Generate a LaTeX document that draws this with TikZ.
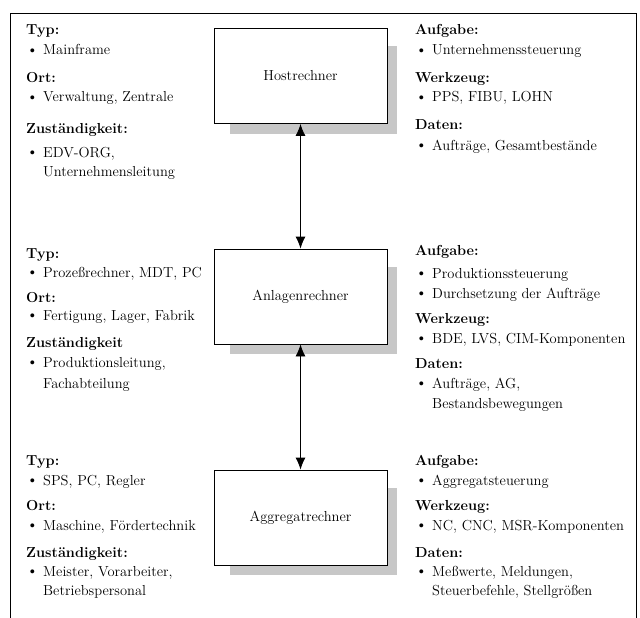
\documentclass[tikz,border=0pt]{standalone}
\usetikzlibrary{arrows.meta,backgrounds}
\tikzset{
  hdr/.style={anchor=base west, inner sep=0pt, font=\fontsize{14.5}{16}\selectfont\bfseries},
  itm/.style={anchor=base west, inner sep=0pt, font=\fontsize{14.5}{16}\selectfont},
  bul/.style={anchor=base west, inner sep=0pt, yshift=-0.7pt, font=\fontsize{17.5}{18}\selectfont},
  rbox/.style={draw, line width=0.9pt, fill=white, minimum width=173pt, minimum height=95pt, inner sep=0pt, font=\fontsize{14.5}{16}\selectfont},
  shad/.style={fill=black!22},
  link/.style={line width=0.9pt, {Latex[length=12pt,width=10pt]}-{Latex[length=12pt,width=10pt]}},
  frameline/.style={line width=0.9pt}
}
\newcommand\Hd[4]{\node[hdr] (#1) at (#2,#3) {#4};}
\newcommand\It[4]{\node[bul] (#1b) at (#2,#3) {\textbullet}; \node[itm] (#1) at (#2+17,#3) {#4};}
\newcommand\Ct[4]{\node[itm] (#1) at (#2+17,#3) {#4};}
\begin{document}
\begin{tikzpicture}[x=1pt,y=-1pt]
\useasboundingbox (0,0) rectangle (640,618);
\draw[frameline] (10,618) -- (10,13) -- (636,13) -- (636,618);

% boxes
\node[rbox] (host) at (300.5,76) {Hostrechner};
\node[rbox] (anl) at (300.5,296.5) {Anlagenrechner};
\node[rbox] (agg) at (300.5,517.5) {Aggregatrechner};
\begin{scope}[on background layer]
  \foreach \b in {host,anl,agg}{
    \fill[shad] ([xshift=16pt,yshift=-18pt]\b.north west) rectangle ([xshift=10pt,yshift=-10pt]\b.south east);
  }
\end{scope}
\draw[link] (host.south) -- (anl.north);
\draw[link] (anl.south) -- (agg.north);

% left block 1
\Hd{la1}{26}{35}{Typ:}
\It{la2}{26}{55}{Mainframe}
\Hd{la3}{26}{82}{Ort:}
\It{la4}{26}{102}{Verwaltung, Zentrale}
\Hd{la5}{26}{133}{Zuständigkeit:}
\It{la6}{26}{157}{EDV-ORG,}
\Ct{la7}{26}{176}{Unternehmensleitung}

% right block 1
\Hd{ra1}{415}{35}{Aufgabe:}
\It{ra2}{415}{55}{Unternehmenssteuerung}
\Hd{ra3}{415}{82}{Werkzeug:}
\It{ra4}{415}{102}{PPS, FIBU, LOHN}
\Hd{ra5}{415}{129}{Daten:}
\It{ra6}{415}{150}{Aufträge, Gesamtbestände}

% left block 2
\Hd{lb1}{26}{258}{Typ:}
\It{lb2}{26}{277}{Prozeßrechner, MDT, PC}
\Hd{lb3}{26}{302}{Ort:}
\It{lb4}{26}{320}{Fertigung, Lager, Fabrik}
\Hd{lb5}{26}{347}{Zuständigkeit}
\It{lb6}{26}{367}{Produktionsleitung,}
\Ct{lb7}{26}{388}{Fachabteilung}

% right block 2
\Hd{rb1}{415}{255}{Aufgabe:}
\It{rb2}{415}{278}{Produktionssteuerung}
\It{rb3}{415}{298}{Durchsetzung der Aufträge}
\Hd{rb4}{415}{323}{Werkzeug:}
\It{rb5}{415}{343}{BDE, LVS, CIM-Komponenten}
\Hd{rb6}{415}{368}{Daten:}
\It{rb7}{415}{388}{Aufträge, AG,}
\Ct{rb8}{415}{408}{Bestandsbewegungen}

% left block 3
\Hd{lc1}{26}{465}{Typ:}
\It{lc2}{26}{485}{SPS, PC, Regler}
\Hd{lc3}{26}{510}{Ort:}
\It{lc4}{26}{530}{Maschine, Fördertechnik}
\Hd{lc5}{26}{557}{Zuständigkeit:}
\It{lc6}{26}{576}{Meister, Vorarbeiter,}
\Ct{lc7}{26}{595}{Betriebspersonal}

% right block 3
\Hd{rc1}{415}{465}{Aufgabe:}
\It{rc2}{415}{485}{Aggregatsteuerung}
\Hd{rc3}{415}{510}{Werkzeug:}
\It{rc4}{415}{530}{NC, CNC, MSR-Komponenten}
\Hd{rc5}{415}{557}{Daten:}
\It{rc6}{415}{576}{Meßwerte, Meldungen,}
\Ct{rc7}{415}{595}{Steuerbefehle, Stellgrößen}
\end{tikzpicture}
\end{document}
